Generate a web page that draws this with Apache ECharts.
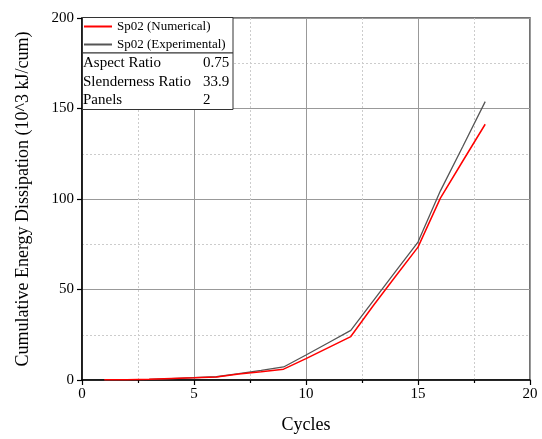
<!DOCTYPE html>
<html><head><meta charset="utf-8">
<script src="https://cdn.jsdelivr.net/npm/echarts@6/dist/echarts.min.js"></script>
<style>html,body{margin:0;padding:0;background:#fff}#c{width:542px;height:439px}</style>
</head><body><div id="c"></div>
<script>
const cycles = [1,2,3,4,5,6,7,8,9,10,11,12,13,14,15,16,17,18];
const numerical = [0.1,0.2,0.4,0.8,1.2,1.7,3.3,4.6,6.0,11.8,17.9,24.0,41.0,57.3,73.4,100.5,121,141.3];
const experimental = [0.1,0.2,0.4,0.8,1.3,1.8,3.5,5.3,7.2,13.8,20.6,27.4,43.7,60.0,76.2,104.5,129,153.8];
const seriesNames = ['Sp02 (Numerical)','Sp02 (Experimental)'];
const tableLabels = ['Aspect Ratio','Slenderness Ratio','Panels'];
const tableValues = ['0.75','33.9','2'];

const font = '"Liberation Serif","Times New Roman",serif';
const chart = echarts.init(document.getElementById('c'));
const toPairs = (ys) => cycles.map((x,i)=>[x, ys[i]]);

const graphics = [
  {type:'rect', shape:{x:82.5,y:17.5,width:150.5,height:35.5}, style:{fill:'#fff',stroke:'#333',lineWidth:1}, z:50},
  {type:'rect', shape:{x:82.5,y:53,width:150.5,height:56.5}, style:{fill:'#fff',stroke:'#333',lineWidth:1}, z:50}
];
tableLabels.forEach((t,i)=>{
  graphics.push({type:'text', left:83, top:56+i*18.5, z:51, style:{text:t, font:'15px '+font, fill:'#000'}});
  graphics.push({type:'text', left:203, top:56+i*18.5, z:51, style:{text:tableValues[i], font:'15px '+font, fill:'#000'}});
});

chart.setOption({
  animation:false,
  backgroundColor:'#fff',
  grid:{left:82, right:12, top:18, bottom:59, show:true, borderColor:'#444', borderWidth:1.5, backgroundColor:'transparent'},
  legend:{
    orient:'vertical', left:79, top:15, itemWidth:28, itemHeight:2, itemGap:5, z:60,
    textStyle:{fontFamily:font, fontSize:13, color:'#000'},
    data:[{name:seriesNames[0], icon:'rect'},{name:seriesNames[1], icon:'rect'}]
  },
  xAxis:{
    type:'value', min:0, max:20, interval:5,
    name:'Cycles', nameLocation:'middle', nameGap:36,
    nameTextStyle:{fontFamily:font, fontSize:18, color:'#000'},
    axisLine:{show:true, onZero:false, lineStyle:{color:'#000', width:1.5}},
    axisTick:{show:true, inside:false, length:5, lineStyle:{color:'#000', width:1.2}},
    minorTick:{show:true, splitNumber:2, length:3, lineStyle:{color:'#000', width:1.2}},
    axisLabel:{fontFamily:font, fontSize:15, color:'#000', margin:7},
    splitLine:{show:true, lineStyle:{color:'#999', width:1}},
    minorSplitLine:{show:true, lineStyle:{color:'#ccc', width:1, type:[2,2]}}
  },
  yAxis:{
    type:'value', min:0, max:200, interval:50,
    name:'Cumulative Energy Dissipation (10^3 kJ/cum)', nameLocation:'middle', nameGap:50,
    nameTextStyle:{fontFamily:font, fontSize:18, color:'#000'},
    axisLine:{show:true, onZero:false, lineStyle:{color:'#000', width:1.5}},
    axisTick:{show:true, inside:false, length:5, lineStyle:{color:'#000', width:1.2}},
    minorTick:{show:false, splitNumber:2},
    axisLabel:{fontFamily:font, fontSize:15, color:'#000', margin:8},
    splitLine:{show:true, lineStyle:{color:'#999', width:1}},
    minorSplitLine:{show:true, lineStyle:{color:'#ccc', width:1, type:[2,2]}}
  },
  series:[
    {name:seriesNames[1], type:'line', data:toPairs(experimental), symbol:'none', z:3,
     lineStyle:{color:'#555', width:1.3}, itemStyle:{color:'#555'}},
    {name:seriesNames[0], type:'line', data:toPairs(numerical), symbol:'none', z:4,
     lineStyle:{color:'#ff0000', width:1.5}, itemStyle:{color:'#ff0000'}}
  ],
  graphic:graphics
});
</script></body></html>
